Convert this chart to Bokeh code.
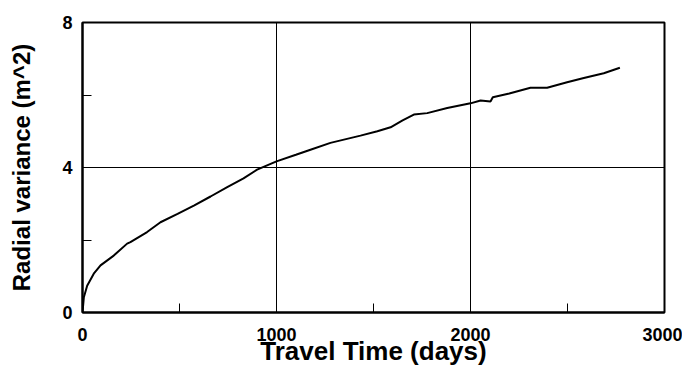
from bokeh.plotting import figure
from bokeh.models import Range1d, FixedTicker
from bokeh.embed import file_html
from bokeh.resources import INLINE

# Data
days = [0, 7, 24, 58, 93, 161, 230, 247, 333, 402, 490, 574, 660, 746, 830, 900,
        1000, 1100, 1175, 1278, 1433, 1520, 1588, 1650, 1708, 1777, 1880, 2000,
        2052, 2103, 2115, 2200, 2309, 2395, 2498, 2584, 2687, 2770]
variance = [0.0, 0.42, 0.74, 1.07, 1.30, 1.57, 1.90, 1.94, 2.22, 2.49, 2.72, 2.95,
            3.20, 3.46, 3.70, 3.94, 4.17, 4.35, 4.49, 4.68, 4.88, 5.00, 5.11, 5.30,
            5.46, 5.50, 5.64, 5.77, 5.85, 5.82, 5.94, 6.04, 6.20, 6.20, 6.35, 6.47,
            6.60, 6.75]
x_ticks = [0, 1000, 2000, 3000]
x_minor = [500, 1500, 2500]
y_ticks = [0, 4, 8]
y_minor = [2, 6]
x_title = "Travel Time (days)"
y_title = "Radial variance (m^2)"

FONT = "Liberation Sans"

p = figure(width=682, height=370, output_backend="svg", toolbar_location=None,
           x_range=Range1d(0, 3000), y_range=Range1d(0, 8),
           min_border_left=82, min_border_right=18, min_border_top=22,
           min_border_bottom=58)
p.background_fill_color = "white"
p.border_fill_color = "white"
p.outline_line_color = "black"
p.outline_line_width = 2

p.line(days, variance, line_color="black", line_width=2)

p.xaxis.ticker = FixedTicker(ticks=x_ticks, minor_ticks=x_minor)
p.yaxis.ticker = FixedTicker(ticks=y_ticks, minor_ticks=y_minor)

for ax in (p.xaxis, p.yaxis):
    ax.axis_line_color = "black"
    ax.axis_line_width = 2
    ax.major_tick_line_color = "black"
    ax.major_tick_line_width = 1
    ax.minor_tick_line_color = "black"
    ax.minor_tick_line_width = 1
    ax.major_tick_in = 18
    ax.major_tick_out = 0
    ax.minor_tick_in = 9
    ax.minor_tick_out = 0
    ax.major_label_text_font = FONT
    ax.major_label_text_font_style = "bold"
    ax.major_label_text_font_size = "18px"
    ax.major_label_text_color = "black"
    ax.axis_label_text_font = FONT
    ax.axis_label_text_font_style = "bold"
    ax.axis_label_text_color = "black"

p.xaxis.major_label_standoff = 15
p.yaxis.major_label_standoff = 10

p.yaxis.axis_label = y_title
p.yaxis.axis_label_text_font_size = "24px"
p.yaxis.axis_label_standoff = 24

p.xaxis.axis_label = x_title
p.xaxis.axis_label_text_font_size = "26px"
p.xaxis.axis_label_standoff = -8

p.xgrid.ticker = FixedTicker(ticks=x_ticks)
p.ygrid.ticker = FixedTicker(ticks=y_ticks)
p.grid.grid_line_color = "black"
p.grid.grid_line_width = 1
p.grid.grid_line_alpha = 1.0

open("out.html", "w").write(file_html(p, INLINE))
